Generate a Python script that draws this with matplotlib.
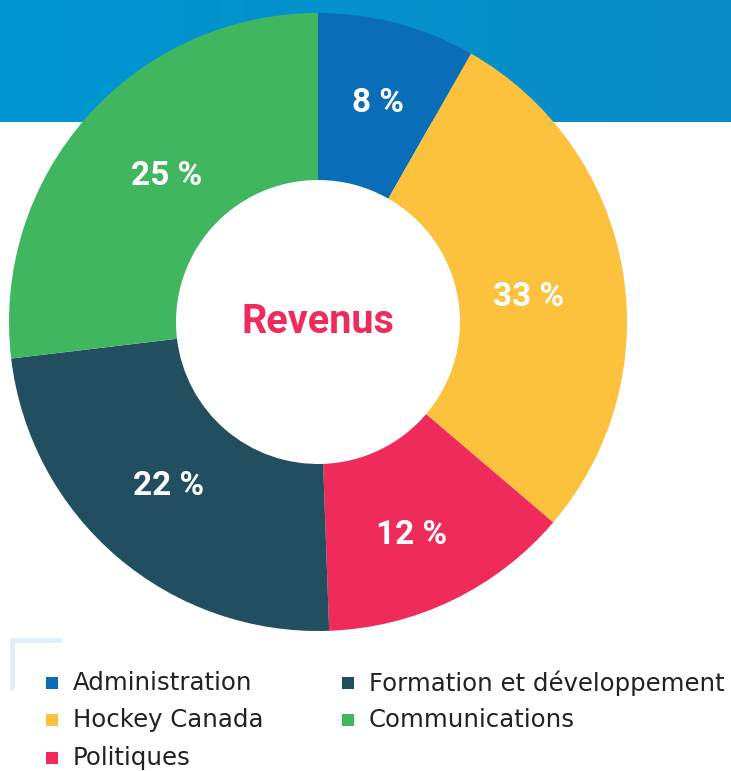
import numpy as np
import matplotlib
matplotlib.use("Agg")
import matplotlib.pyplot as plt
from matplotlib.patches import Rectangle
from matplotlib.lines import Line2D

# wedges clockwise from 12 o'clock
categories = ["Administration", "Hockey Canada", "Politiques",
              "Formation et développement", "Communications"]
pct_labels = ["8 %", "33 %", "12 %", "22 %", "25 %"]
# wedge sizes as drawn in the picture (they do not follow the printed labels)
shares = [8.25, 28.0, 13.2, 23.7, 26.9]
colors = ["#0a6db8", "#fcc13d", "#ee2b5b", "#214f5f", "#40b75f"]

# legend order (two columns, row by row)
legend_order = ["Administration", "Formation et développement",
                "Hockey Canada", "Communications", "Politiques"]

# label placement: angle clockwise from top (deg) and radius (fraction of outer)
lab_ang = [15.3, 83.2, 156.2, 222.4, 314.0]
lab_rad = [0.735, 0.685, 0.753, 0.719, 0.68]

W, H = 731, 771
fig = plt.figure(figsize=(W / 100, H / 100), dpi=100)
fig.patch.set_facecolor("white")

# blue header band
bg = fig.add_axes([0, 0, 1, 1])
bg.set_xlim(0, W)
bg.set_ylim(H, 0)
bg.axis("off")
grad = np.linspace(0, 1, 256).reshape(1, -1)
bg.imshow(grad, extent=[0, W, 122, 0], aspect="auto",
          cmap=matplotlib.colors.LinearSegmentedColormap.from_list("hdr", ["#0097d3", "#0a8bc5"]))
# light corner bracket
bg.add_line(Line2D([11.5, 11.5, 59], [688, 640, 640], color="#ddf0fa", lw=3.5,
                   solid_capstyle="round", solid_joinstyle="round"))

# donut
cx, cy, R = 318, 322, 309
rin = 142
ax = fig.add_axes([(cx - R) / W, (H - cy - R) / H, 2 * R / W, 2 * R / H])
wedges, _ = ax.pie(shares, colors=colors, startangle=90, counterclock=False,
                   radius=1, wedgeprops=dict(width=(R - rin) / R, linewidth=0))
ax.set_xlim(-1, 1)
ax.set_ylim(-1, 1)
ax.axis("off")

cond = ["Roboto", "DejaVu Sans"]
for lab, a, r in zip(pct_labels, lab_ang, lab_rad):
    t = np.deg2rad(a)
    ax.text(r * np.sin(t), r * np.cos(t), lab, ha="center", va="center",
            color="white", fontsize=24, fontweight="bold", family=cond)

ax.text(0, 0, "Revenus", ha="center", va="center", color="#ee2b5b",
        fontsize=28.5, fontweight="bold", family=cond)

# legend
cols_x = [46, 342]
rows_y = [683, 720, 758]
cmap = dict(zip(categories, colors))
for i, name in enumerate(legend_order):
    x = cols_x[i % 2]
    y = rows_y[i // 2]
    bg.add_patch(Rectangle((x, y - 6), 12, 12, color=cmap[name], lw=0))
    bg.text(x + 27, y, name, ha="left", va="center", fontsize=17.6,
            color="#222222", family=["DejaVu Sans"])

fig.savefig("out.png", dpi=100, facecolor="white")
